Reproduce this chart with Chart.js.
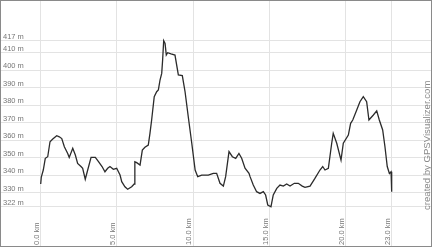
<!DOCTYPE html>
<html>
<head>
<meta charset="utf-8">
<script src="https://cdn.jsdelivr.net/npm/chart.js@4"></script>
<style>
    body   { margin: 0; background: #fff; }
    .frame { width: 432px; height: 247px; box-sizing: border-box; border: 1px solid #8a8a8a; }
    canvas { display: block; }
</style>
</head>
<body>
<div class="frame"><canvas id="profile" width="430" height="245"></canvas></div>
<script>
// ── Elevation profile data ──────────────────────────────────────────

const distKm = [
    0, 0.04, 0.17, 0.30, 0.46, 0.61, 0.79, 1.05, 1.22, 1.38,
    1.55, 1.77, 1.87, 2.10, 2.27, 2.42, 2.64, 2.75, 2.92, 3.08,
    3.30, 3.58, 3.80, 4.02, 4.21, 4.39, 4.54, 4.76, 4.98, 5.20,
    5.31, 5.52, 5.70, 5.96, 6.13, 6.17, 6.29, 6.51, 6.57, 6.66,
    6.83, 7.05, 7.16, 7.27, 7.44, 7.60, 7.71, 7.82, 7.93, 7.99,
    8.06, 8.15, 8.23, 8.32, 8.54, 8.80, 9.02, 9.28, 9.46, 9.67,
    9.90, 10.12, 10.29, 10.55, 10.98, 11.31, 11.53, 11.75, 11.97, 12.12,
    12.34, 12.56, 12.78, 12.99, 13.17, 13.39, 13.65, 13.72, 13.93, 14.15,
    14.37, 14.59, 14.74, 14.88, 15.09, 15.24, 15.47, 15.68, 15.90, 16.12,
    16.34, 16.62, 16.88, 17.14, 17.32, 17.65, 17.97, 18.30, 18.48, 18.63,
    18.85, 19.07, 19.17, 19.40, 19.68, 19.83, 20.16, 20.31, 20.45, 20.71,
    20.92, 21.14, 21.36, 21.51, 21.80, 22.02, 22.19, 22.41, 22.56, 22.71,
    22.85, 22.96, 23.00
];

const elevM = [
    335, 339, 343, 349.7, 350.6, 359.2, 360.7, 362.6, 362, 361,
    356.3, 352.5, 350.2, 355.4, 351.6, 346.8, 345, 344, 337.7, 343,
    350.2, 350.2, 347.7, 345, 342, 344, 345, 343.4, 344, 340.1,
    336.3, 333.4, 332, 333.4, 335, 347.7, 347.2, 345.8, 345.8, 354.4,
    356, 357.3, 364, 371.6, 385, 387.8, 388.8, 394.5, 398.3, 406,
    417, 415.5, 408.8, 410.1, 409.4, 408.8, 397.4, 397, 387.8, 373.5,
    358.3, 343, 339.2, 340.1, 340.1, 341.1, 341.1, 335.4, 333.8, 339.2,
    353.5, 350.6, 349.7, 352.5, 349.7, 344, 341.1, 339.2, 334.4, 330.6,
    329.6, 330.6, 328.7, 323, 322, 328.7, 332.5, 334.4, 333.8, 335,
    333.8, 335.4, 335.4, 333.8, 333.1, 333.8, 338.2, 343, 345, 343,
    344, 358.3, 364, 358.3, 348.7, 358.3, 363, 369.7, 371.6, 377.3,
    382.1, 385, 382.1, 371.6, 374.5, 376.9, 371.6, 365.9, 356.3, 345,
    341, 342, 330.6
];

const xTicks = [0, 5, 10, 15, 20, 23];
const yTicks = [322, 330, 340, 350, 360, 370, 380, 390, 400, 410, 417];

const watermark = 'created by GPSVisualizer.com';

// ── Watermark drawn up the right edge ───────────────────────────────

const watermarkPlugin = {
    id: 'watermark',
    afterDraw(chart) {
        const ctx = chart.ctx;
        ctx.save();
        ctx.translate(426, 209);
        ctx.rotate(-Math.PI / 2);
        ctx.font = '9.6px "Liberation Sans", Arial, sans-serif';
        ctx.fillStyle = '#8a8a8a';
        ctx.textAlign = 'left';
        ctx.textBaseline = 'middle';
        ctx.fillText(watermark, 0, 0);
        ctx.restore();
    }
};

const gridColor = '#e3e3e3';
const tickFont  = { family: '"Liberation Sans", Arial, sans-serif', size: 7.5 };

new Chart(document.getElementById('profile'), {
    type: 'line',
    data: {
        datasets: [{
            data: distKm.map((d, i) => ({ x: d, y: elevM[i] })),
            borderColor: '#2b2b2b',
            borderWidth: 1.3,
            pointRadius: 0,
            tension: 0,
            fill: false,
        }]
    },
    options: {
        responsive: false,
        animation: false,
        layout: { padding: 0 },
        plugins: {
            legend:  { display: false },
            tooltip: { enabled: false },
        },
        scales: {
            x: {
                type: 'linear',
                position: 'bottom',
                min: -2.6016,
                max: 25.577,
                border: { display: false },
                grid: { color: gridColor, drawTicks: true, tickLength: 35 },
                ticks: {
                    autoSkip: false,
                    minRotation: 90,
                    maxRotation: 90,
                    padding: -27.7,
                    labelOffset: -4,
                    color: '#777',
                    font: tickFont,
                    // pad the short labels so every label starts at the bottom edge
                    callback: v => {
                        const s = v.toFixed(1) + ' km';
                        return s.length < 7 ? s + '  ' : s;
                    }
                },
                afterBuildTicks: axis => { axis.ticks = xTicks.map(v => ({ value: v })); },
                afterFit: axis => { axis.height = 35; axis.paddingLeft = 0; axis.paddingRight = 0; },
            },
            y: {
                type: 'linear',
                position: 'left',
                min: 319.54,
                max: 439.72,
                border: { display: false },
                grid: { color: gridColor, drawTicks: false },
                ticks: {
                    mirror: true,
                    padding: 2,
                    labelOffset: -4,
                    color: '#777',
                    font: tickFont,
                    callback: v => v + ' m'
                },
                afterBuildTicks: axis => { axis.ticks = yTicks.map(v => ({ value: v })); },
                afterFit: axis => { axis.width = 0; axis.paddingTop = 0; axis.paddingBottom = 0; },
            }
        }
    },
    plugins: [watermarkPlugin]
});
</script>
</body>
</html>
